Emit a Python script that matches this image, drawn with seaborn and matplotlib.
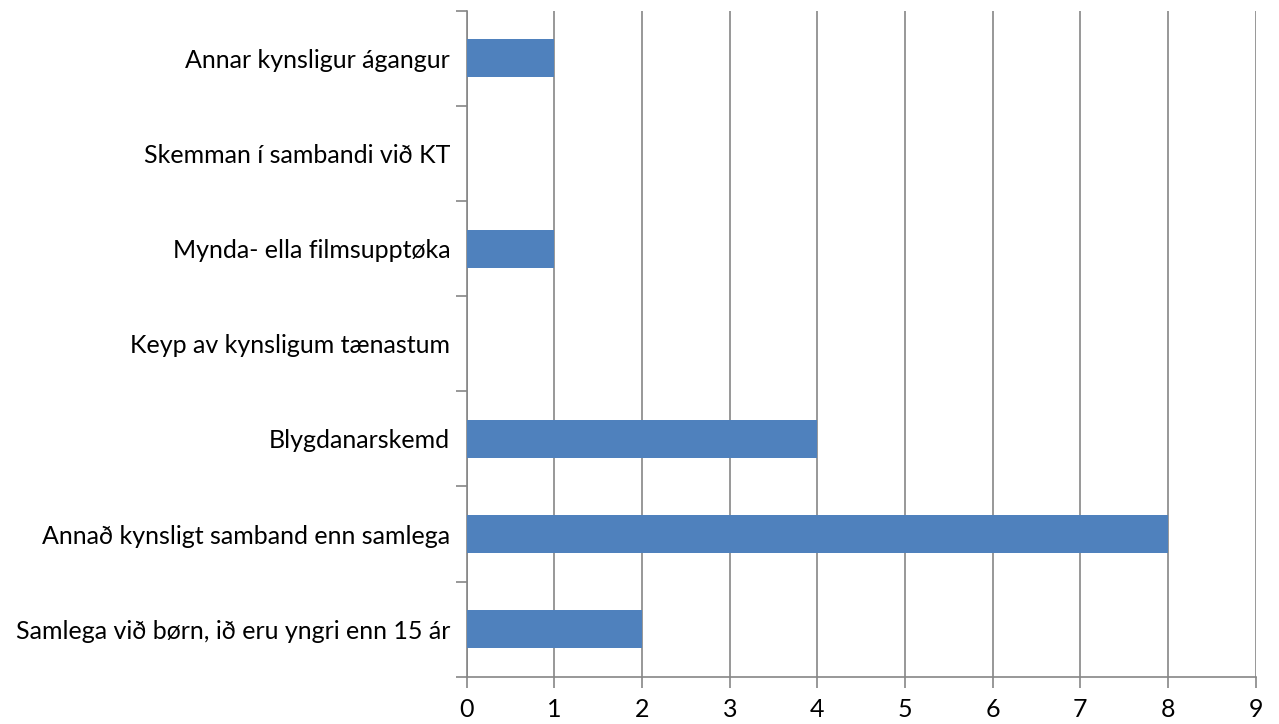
import matplotlib
matplotlib.use("Agg")
import matplotlib.pyplot as plt
import numpy as np
import pandas as pd
import seaborn as sns

categories = [
    "Annar kynsligur ágangur",
    "Skemman í sambandi við KT",
    "Mynda- ella filmsupptøka",
    "Keyp av kynsligum tænastum",
    "Blygdanarskemd",
    "Annað kynsligt samband enn samlega",
    "Samlega við børn, ið eru yngri enn 15 ár",
]
values = [1, 0, 1, 0, 4, 8, 2]
x_ticks = list(range(0, 10))

df = pd.DataFrame({"kategori": categories, "tal": values})

sns.set_style("white")
plt.rcParams["font.family"] = ["Lato", "DejaVu Sans"]

grey = "#868686"
fig = plt.figure(figsize=(12.79, 7.24), dpi=100)
ax = fig.add_axes([0.365, 0.0653, 0.6167, 0.9199])

sns.barplot(data=df, x="tal", y="kategori", orient="h", color="#4F81BD",
            width=0.4, saturation=1, linewidth=0, ax=ax, zorder=3)

ax.set_xlim(0, 9)
ax.set_ylim(6.5, -0.5)
ax.set_xticks(x_ticks)
ax.set_xticklabels([str(t) for t in x_ticks], fontsize=18, color="black")
ax.set_yticks(range(len(categories)))
ax.set_yticklabels(categories, fontsize=18, color="black")
ax.set_yticks(np.arange(-0.5, len(categories), 1), minor=True)
ax.tick_params(axis="y", which="major", left=True, length=0, pad=12)
ax.tick_params(axis="y", which="minor", left=True, length=8, width=1.2, color=grey)
ax.tick_params(axis="x", which="major", bottom=True, length=8, width=1.2,
               color=grey, pad=7)

ax.xaxis.grid(True, color=grey, linewidth=1.2, zorder=0)
ax.yaxis.grid(False)
ax.set_axisbelow(True)
ax.set_xlabel("")
ax.set_ylabel("")
for side in ["top", "right"]:
    ax.spines[side].set_visible(False)
for side in ["left", "bottom"]:
    ax.spines[side].set_color(grey)
    ax.spines[side].set_linewidth(1.2)

fig.savefig("out.png", dpi=100)
